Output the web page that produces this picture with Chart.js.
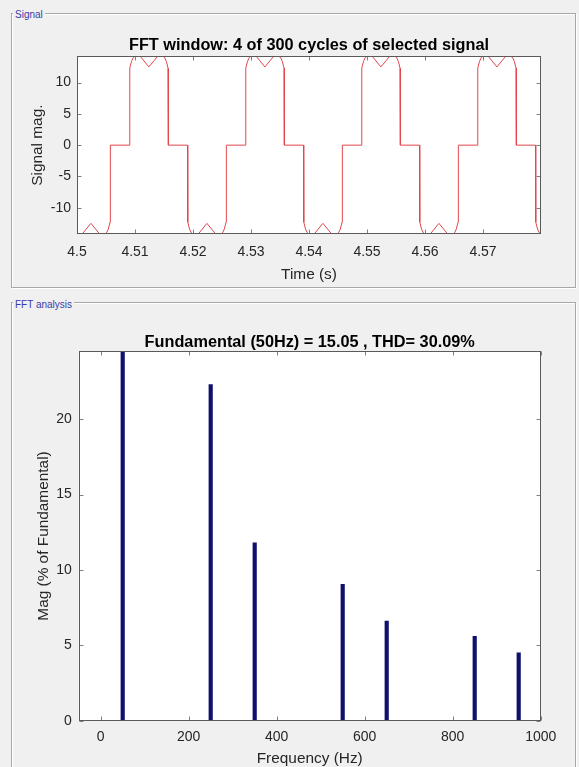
<!DOCTYPE html>
<html><head><meta charset="utf-8">
<script src="https://cdn.jsdelivr.net/npm/chart.js"></script>
<style>
html,body{margin:0;padding:0;background:#f0f0f0;width:579px;height:767px;overflow:hidden;font-family:"Liberation Sans",Arial,sans-serif}
.panel{position:absolute;border:1px solid #a8a8a8;box-shadow:1px 1px 0 #fff, inset 1px 1px 0 #fff;}
.plabel{position:absolute;font-size:10px;color:#3b3ba6;background:#f0f0f0;padding:0 2px;line-height:12px;white-space:nowrap}
canvas{position:absolute;left:0}
</style></head>
<body>
<div class="panel" style="left:11px;top:13px;width:563px;height:273px"></div>
<div class="plabel" style="left:13px;top:8.7px">Signal</div>
<div class="panel" style="left:11px;top:302px;width:563px;height:480px"></div>
<div class="plabel" style="left:13px;top:298.7px">FFT analysis</div>
<canvas id="sig" width="579" height="290" style="top:0"></canvas>
<canvas id="fft" width="579" height="480" style="top:290px"></canvas>
<script>
const FONT = '"Liberation Sans", Arial, sans-serif';

// ---- Signal (time domain) ----
const timeSec = [
 4.5, 4.5009, 4.5024, 4.5039, 4.5048, 4.5051, 4.5054, 4.5057, 4.50575, 4.50905, 4.5091, 4.5094, 4.5097, 4.51, 4.5109, 4.5124, 4.5139, 4.5148, 4.5151, 4.5154, 4.5157, 4.51575, 4.51905, 4.5191, 4.5194, 4.5197,
 4.52, 4.5209, 4.5224, 4.5239, 4.5248, 4.5251, 4.5254, 4.5257, 4.52575, 4.52905, 4.5291, 4.5294, 4.5297, 4.53, 4.5309, 4.5324, 4.5339, 4.5348, 4.5351, 4.5354, 4.5357, 4.53575, 4.53905, 4.5391, 4.5394, 4.5397,
 4.54, 4.5409, 4.5424, 4.5439, 4.5448, 4.5451, 4.5454, 4.5457, 4.54575, 4.54905, 4.5491, 4.5494, 4.5497, 4.55, 4.5509, 4.5524, 4.5539, 4.5548, 4.5551, 4.5554, 4.5557, 4.55575, 4.55905, 4.5591, 4.5594, 4.5597,
 4.56, 4.5609, 4.5624, 4.5639, 4.5648, 4.5651, 4.5654, 4.5657, 4.56575, 4.56905, 4.5691, 4.5694, 4.5697, 4.57, 4.5709, 4.5724, 4.5739, 4.5748, 4.5751, 4.5754, 4.5757, 4.57575, 4.57905, 4.5791, 4.5794, 4.5797,
 4.58
];
const signalMag = [
 -14.2, -14.2, -12.5, -14.2, -14.2, -14.0, -13.4, -12.3, 0, 0, 12.3, 13.4, 14.0, 14.2, 14.2, 12.5, 14.2, 14.2, 14.0, 13.4, 12.3, 0, 0, -12.3, -13.4, -14.0,
 -14.2, -14.2, -12.5, -14.2, -14.2, -14.0, -13.4, -12.3, 0, 0, 12.3, 13.4, 14.0, 14.2, 14.2, 12.5, 14.2, 14.2, 14.0, 13.4, 12.3, 0, 0, -12.3, -13.4, -14.0,
 -14.2, -14.2, -12.5, -14.2, -14.2, -14.0, -13.4, -12.3, 0, 0, 12.3, 13.4, 14.0, 14.2, 14.2, 12.5, 14.2, 14.2, 14.0, 13.4, 12.3, 0, 0, -12.3, -13.4, -14.0,
 -14.2, -14.2, -12.5, -14.2, -14.2, -14.0, -13.4, -12.3, 0, 0, 12.3, 13.4, 14.0, 14.2, 14.2, 12.5, 14.2, 14.2, 14.0, 13.4, 12.3, 0, 0, -12.3, -13.4, -14.0,
 -14.2
];
const timeTicks = [4.5, 4.51, 4.52, 4.53, 4.54, 4.55, 4.56, 4.57];
const timeTickLabels = ['4.5', '4.51', '4.52', '4.53', '4.54', '4.55', '4.56', '4.57'];
const sigTicks = [-10, -5, 0, 5, 10];
const sigTickLabels = ['-10', '-5', '0', '5', '10'];

// ---- FFT analysis ----
const harmonicFreq = [50, 250, 350, 550, 650, 850, 950];
const harmonicMag = [100, 22.3, 11.8, 9.05, 6.6, 5.6, 4.5];
const freqTicks = [0, 200, 400, 600, 800, 1000];
const freqTickLabels = ['0', '200', '400', '600', '800', '1000'];
const magTicks = [0, 5, 10, 15, 20];
const magTickLabels = ['0', '5', '10', '15', '20'];

const axesBox = {
  id: 'axesBox',
  beforeDraw(chart) {
    const {ctx, chartArea: a} = chart;
    ctx.save();
    ctx.fillStyle = '#ffffff';
    ctx.fillRect(a.left, a.top, a.right - a.left, a.bottom - a.top);
    ctx.restore();
  },
  afterDatasetsDraw(chart, args, opts) {
    const {ctx, chartArea: a} = chart;
    const xs = chart.scales.x, ys = chart.scales.y;
    const L = opts.tickLen || 4;
    const l = Math.round(a.left) + 0.5, r = Math.round(a.right) - 0.5;
    const t = Math.round(a.top) + 0.5, b = Math.round(a.bottom) - 0.5;
    ctx.save();
    ctx.lineWidth = 1;
    ctx.strokeStyle = '#808080';
    ctx.beginPath();
    xs.ticks.forEach(tk => {
      const p = Math.round(xs.getPixelForValue(tk.value)) + 0.5;
      ctx.moveTo(p, b); ctx.lineTo(p, b - L);
      ctx.moveTo(p, t); ctx.lineTo(p, t + L);
    });
    ys.ticks.forEach(tk => {
      const p = Math.round(ys.getPixelForValue(tk.value)) + 0.5;
      ctx.moveTo(l, p); ctx.lineTo(l + L, p);
      ctx.moveTo(r, p); ctx.lineTo(r - L, p);
    });
    ctx.stroke();
    ctx.strokeStyle = '#5a5a5a';
    ctx.strokeRect(l, t, r - l, b - t);
    ctx.restore();
  }
};

new Chart(document.getElementById('sig'), {
  type: 'line',
  data: {
    datasets: [{
      data: timeSec.map((t, i) => ({x: t, y: signalMag[i]})),
      borderColor: '#e0474c', borderWidth: 1, pointRadius: 0, tension: 0, fill: false
    }]
  },
  options: {
    responsive: false, animation: false, devicePixelRatio: 1,
    layout: {padding: {left: 20, right: 38, top: 29.5, bottom: 5}},
    plugins: {
      legend: {display: false}, tooltip: {enabled: false},
      title: {display: true, fullSize: false, text: 'FFT window: 4 of 300 cycles of selected signal', color: '#000',
        font: {family: FONT, size: 16.3, weight: 'bold', lineHeight: 1}, padding: {top: 8, bottom: 2.5}},
      axesBox: {tickLen: 4}
    },
    scales: {
      x: {
        type: 'linear', min: 4.5, max: 4.58,
        grid: {display: false, drawTicks: false}, border: {display: false},
        afterBuildTicks: s => { s.ticks = timeTicks.map(v => ({value: v})); },
        afterFit: s => { s.height = 51; },
        ticks: {autoSkip: false, maxRotation: 0, padding: 9.5, color: '#262626',
          font: {family: FONT, size: 14}, callback: (v, i) => timeTickLabels[i]},
        title: {display: true, text: 'Time (s)', color: '#262626',
          font: {family: FONT, size: 15.4}, padding: {top: 0, bottom: 0.8}}
      },
      y: {
        type: 'linear', min: -14.2, max: 14.2,
        grid: {display: false, drawTicks: false}, border: {display: false},
        afterBuildTicks: s => { s.ticks = sigTicks.map(v => ({value: v})); },
        afterFit: s => { s.width = 57; },
        ticks: {autoSkip: false, padding: 6, color: '#262626',
          font: {family: FONT, size: 14}, callback: (v, i) => sigTickLabels[i]},
        title: {display: true, text: 'Signal mag.', color: '#262626',
          font: {family: FONT, size: 15.4}, padding: {top: 8.3, bottom: 0}}
      }
    }
  },
  plugins: [axesBox]
});

new Chart(document.getElementById('fft'), {
  type: 'bar',
  data: {
    datasets: [{
      data: harmonicFreq.map((f, i) => ({x: f, y: harmonicMag[i]})),
      backgroundColor: '#0f0f6e', borderWidth: 0, barThickness: 3.5, clip: 0
    }]
  },
  options: {
    responsive: false, animation: false, devicePixelRatio: 1,
    layout: {padding: {left: 20, right: 38.3, top: 36.5, bottom: 0}},
    plugins: {
      legend: {display: false}, tooltip: {enabled: false},
      title: {display: true, fullSize: false, text: 'Fundamental (50Hz) = 15.05 , THD= 30.09%', color: '#000',
        font: {family: FONT, size: 16.3, weight: 'bold', lineHeight: 1}, padding: {top: 8, bottom: 0.5}},
      axesBox: {tickLen: 4}
    },
    scales: {
      x: {
        type: 'linear', min: -50, max: 1000, offset: false,
        grid: {display: false, drawTicks: false}, border: {display: false},
        afterBuildTicks: s => { s.ticks = freqTicks.map(v => ({value: v})); },
        afterFit: s => { s.height = 49.3; },
        ticks: {autoSkip: false, maxRotation: 0, padding: 8, color: '#262626',
          font: {family: FONT, size: 14}, callback: (v, i) => freqTickLabels[i]},
        title: {display: true, text: 'Frequency (Hz)', color: '#262626',
          font: {family: FONT, size: 15.4}, padding: {top: 0, bottom: 1.8}}
      },
      y: {
        type: 'linear', min: 0, max: 24.5,
        grid: {display: false, drawTicks: false}, border: {display: false},
        afterBuildTicks: s => { s.ticks = magTicks.map(v => ({value: v})); },
        afterFit: s => { s.width = 58.7; },
        ticks: {autoSkip: false, padding: 7, color: '#262626',
          font: {family: FONT, size: 14}, callback: (v, i) => magTickLabels[i]},
        title: {display: true, text: 'Mag (% of Fundamental)', color: '#262626',
          font: {family: FONT, size: 15.4}, padding: {top: 14.5, bottom: 0}}
      }
    }
  },
  plugins: [axesBox]
});
</script>
</body></html>
